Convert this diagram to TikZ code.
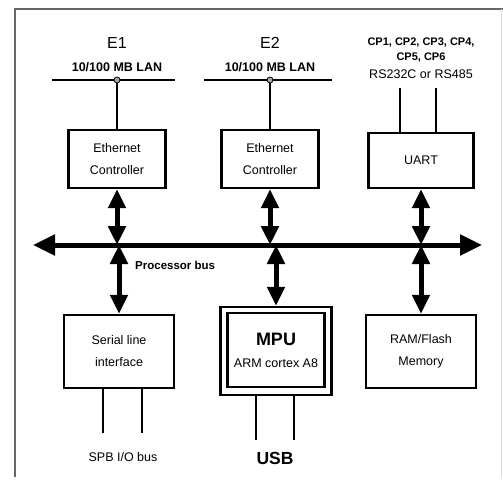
\documentclass[tikz,border=0pt]{standalone}
\usepackage{fontspec}
\setmainfont{Liberation Sans}
\usetikzlibrary{arrows.meta}
\begin{document}
\begin{tikzpicture}[x=1pt,y=-1pt,
  box/.style={draw, line width=2.2pt, align=center, inner sep=0pt,
    font=\fontsize{12.5}{22}\selectfont},
  lbl/.style={inner sep=0pt, align=center},
  wire/.style={line width=2pt},
  lan/.style={line width=2.6pt},
  dbl/.style={line width=5pt, {Triangle[length=19pt,width=17pt]}-{Triangle[length=19pt,width=17pt]}},
  busarrow/.style={line width=5pt, {Triangle[length=22pt,width=20pt]}-{Triangle[length=22pt,width=20pt]}},
  frame/.style={draw=black!60, line width=1.6pt}]
\useasboundingbox (0,0) rectangle (503,481);
% frame
\draw[frame] (15,477) -- (15,9) -- (503,9);
\draw[draw=black!15, line width=1pt] (501,9) -- (501,477);

% top labels
\node[lbl, font=\fontsize{16}{18}\selectfont] (e1) at (117,43) {E1};
\node[lbl, font=\bfseries\fontsize{12.5}{14}\selectfont] (lan1t) at (117,67) {10/100 MB LAN};
\node[lbl, font=\fontsize{16}{18}\selectfont] (e2) at (270,43) {E2};
\node[lbl, font=\bfseries\fontsize{12.5}{14}\selectfont] (lan2t) at (270,67) {10/100 MB LAN};
\node[lbl, font=\bfseries\fontsize{11}{15}\selectfont] (cpt) at (421,50) {CP1, CP2, CP3, CP4,\\CP5, CP6};
\node[lbl, font=\fontsize{12.5}{14}\selectfont] (rst) at (421,74) {RS232C or RS485};

% LAN lines
\coordinate (l1a) at (52,80); \coordinate (l1b) at (175,80);
\coordinate (l2a) at (204,80); \coordinate (l2b) at (332,80);
\draw[lan] (l1a) -- (l1b);
\draw[lan] (l2a) -- (l2b);

% boxes
\node[box, minimum width=97pt, minimum height=58pt] (eth1) at (117,159) {Ethernet\\Controller};
\node[box, minimum width=97pt, minimum height=58pt] (eth2) at (270,159) {Ethernet\\Controller};
\node[box, minimum width=105pt, minimum height=55pt] (uart) at (421,160.5) {UART};
\node[box, minimum width=110pt, minimum height=73pt] (serial) at (119,351.5) {Serial line\\interface};
\node[box, minimum width=111pt, minimum height=88pt] (mpuo) at (276,351) {};
\node[draw, line width=2.2pt, minimum width=97pt, minimum height=74pt, inner sep=0pt] (mpui) at (276,350) {};
\node[lbl, font=\bfseries\fontsize{18}{20}\selectfont] (mput) at (276,339) {MPU};
\node[lbl, font=\fontsize{12.5}{14}\selectfont] (armt) at (276,363) {ARM cortex A8};
\node[box, minimum width=110pt, minimum height=73pt] (ram) at (421,351.5) {RAM/Flash\\Memory};

% LAN taps
\node[draw, line width=0.8pt, fill=black!35, circle, minimum size=6pt, inner sep=0pt] (tap1) at (117,80) {};
\node[draw, line width=0.8pt, fill=black!35, circle, minimum size=6pt, inner sep=0pt] (tap2) at (270,80) {};
\draw[wire] (tap1) -- (eth1.north);
\draw[wire] (tap2) -- (eth2.north);

% UART lines
\coordinate (u1) at (400,88); \coordinate (u2) at (436,88);
\draw[wire] (u1) -- (u1 |- uart.north);
\draw[wire] (u2) -- (u2 |- uart.north);

% bus
\coordinate (busl) at (33,245); \coordinate (busr) at (482,245);
\draw[busarrow] (busl) -- (busr);
\coordinate (b1) at (117,245); \coordinate (b2) at (270,245); \coordinate (b3) at (421,245);
\coordinate (b4) at (119,245); \coordinate (b5) at (276,245);
\node[lbl, anchor=west, font=\bfseries\fontsize{11.5}{13}\selectfont] (pbus) at (135,265) {Processor bus};

% vertical double arrows
\draw[dbl] (eth1.south) -- (b1);
\draw[dbl] (eth2.south) -- (b2);
\draw[dbl] (uart.south) -- (b3);
\draw[dbl] (b4) -- (serial.north);
\draw[dbl] (b5) -- (mpuo.north);
\draw[dbl] (b3) -- (ram.north);

% bottom lines
\coordinate (s1) at (103,433); \coordinate (s2) at (142,433);
\draw[wire] (s1 |- serial.south) -- (s1);
\draw[wire] (s2 |- serial.south) -- (s2);
\coordinate (m1) at (256,440); \coordinate (m2) at (294,440);
\draw[wire] (m1 |- mpuo.south) -- (m1);
\draw[wire] (m2 |- mpuo.south) -- (m2);
\node[lbl, font=\fontsize{12.5}{14}\selectfont] (spb) at (123,457) {SPB I/O bus};
\node[lbl, font=\bfseries\fontsize{17.5}{20}\selectfont] (usb) at (275,458) {USB};
\end{tikzpicture}
\end{document}
